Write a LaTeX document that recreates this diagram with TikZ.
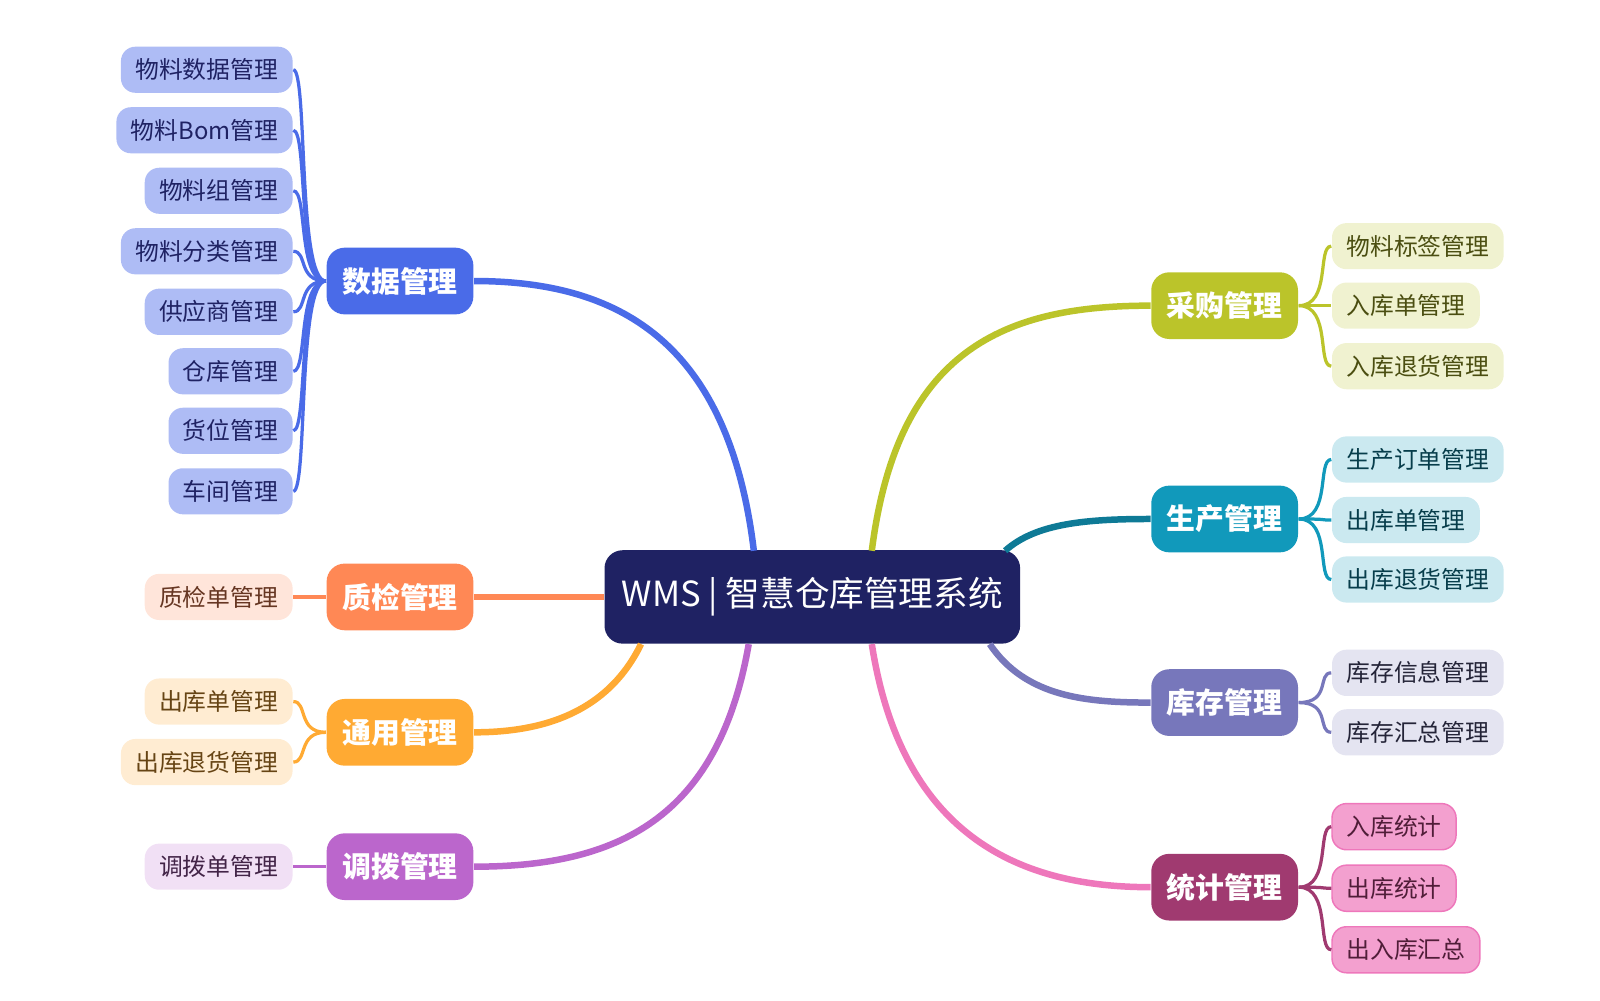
\documentclass[tikz,border=0pt]{standalone}
\usepackage{fontspec}
\setmainfont{Noto Sans CJK SC}
\usetikzlibrary{positioning}
\definecolor{rootc}{HTML}{1F2263}
\definecolor{datac}{HTML}{4A6BE8}
\definecolor{qcc}{HTML}{FF8855}
\definecolor{genc}{HTML}{FFAA33}
\definecolor{trc}{HTML}{BB66CC}
\definecolor{purc}{HTML}{BBC42A}
\definecolor{proc}{HTML}{1199BB}
\definecolor{stoc}{HTML}{7777BB}
\definecolor{stac}{HTML}{A03A70}
\definecolor{stalink}{HTML}{EE77BB}
\tikzset{
  mainbox/.style={fill=#1, rounded corners=5pt, text=white, font=\bfseries\fontsize{8}{10}\selectfont,
    minimum width=1.43cm, minimum height=0.65cm},
  leafbox/.style={fill=#1, rounded corners=4pt, font=\fontsize{6.6}{8}\selectfont,
    minimum height=0.42cm, inner xsep=4pt},
  link/.style={draw=#1, line width=1.8pt},
  twig/.style={draw=#1, line width=0.9pt}
}
\begin{document}
\begin{tikzpicture}[x=0.01cm,y=-0.01cm]
\useasboundingbox (0,0) rectangle (1560,975);
\node[fill=rootc, rounded corners=5pt, text=white, font=\fontsize{9.6}{11}\selectfont,
  minimum width=4.05cm, minimum height=0.91cm] (root) at (792,582) {WMS | 智慧仓库管理系统};
% main branches
\node[mainbox=datac] (data) at (390,274) {数据管理};
\node[mainbox=qcc] (qc) at (390,582) {质检管理};
\node[mainbox=genc] (gen) at (390,714) {通用管理};
\node[mainbox=trc] (tr) at (390,845) {调拨管理};
\node[mainbox=purc] (pur) at (1194,298) {采购管理};
\node[mainbox=proc] (pro) at (1194,506) {生产管理};
\node[mainbox=stoc] (sto) at (1194,685) {库存管理};
\node[mainbox=stac] (sta) at (1194,865) {统计管理};
\coordinate (rd) at (735,537);
\coordinate (rp) at (850,537);
\coordinate (rr) at (980,537);
\coordinate (rg) at (625,628);
\coordinate (rt) at (730,628);
\coordinate (rs) at (965,628);
\coordinate (ra) at (850,628);
\draw[link=datac] (rd) .. controls (710,330) and (600,274) .. (data.east);
\draw[link=qcc] (root.west) -- (qc.east);
\draw[link=genc] (rg) .. controls (590,700) and (520,714) .. (gen.east);
\draw[link=trc] (rt) .. controls (700,800) and (600,845) .. (tr.east);
\draw[link=purc] (rp) .. controls (875,340) and (980,298) .. (pur.west);
\draw[link=proc!80!black] (rr) .. controls (1010,510) and (1060,506) .. (pro.west);
\draw[link=stoc] (rs) .. controls (1000,680) and (1060,685) .. (sto.west);
\draw[link=stalink] (ra) .. controls (880,820) and (1000,865) .. (sta.west);
% leaves left
\foreach \name/\txt/\y in {d1/物料数据管理/68, d2/物料Bom管理/127, d3/物料组管理/186, d4/物料分类管理/245,
  d5/供应商管理/304, d6/仓库管理/362, d7/货位管理/420, d8/车间管理/479} {
  \node[leafbox={datac!45}, text=rootc, anchor=east] (\name) at (286,\y) {\txt};
  \draw[twig=datac] (data.west) .. controls (290,274) and (300,\y) .. (\name.east);
}
\node[leafbox={qcc!22}, text=qcc!40!black, anchor=east] (q1) at (286,582) {质检单管理};
\draw[twig=qcc] (qc.west) -- (q1.east);
\foreach \name/\txt/\y in {g1/出库单管理/684, g2/出库退货管理/743} {
  \node[leafbox={genc!22}, text=genc!40!black, anchor=east] (\name) at (286,\y) {\txt};
  \draw[twig=genc] (gen.west) .. controls (290,714) and (300,\y) .. (\name.east);
}
\node[leafbox={trc!20}, text=trc!35!black, anchor=east] (t1) at (286,845) {调拨单管理};
\draw[twig=trc] (tr.west) -- (t1.east);
% leaves right
\foreach \name/\txt/\y in {p1/物料标签管理/240, p2/入库单管理/298, p3/入库退货管理/357} {
  \node[leafbox={purc!22}, text=purc!40!black, anchor=west] (\name) at (1298,\y) {\txt};
  \draw[twig=purc] (pur.east) .. controls (1298,298) and (1284,\y) .. (\name.west);
}
\foreach \name/\txt/\y in {s1/生产订单管理/448, s2/出库单管理/507, s3/出库退货管理/565} {
  \node[leafbox={proc!22}, text=proc!40!black, anchor=west] (\name) at (1298,\y) {\txt};
  \draw[twig=proc] (pro.east) .. controls (1298,506) and (1284,\y) .. (\name.west);
}
\foreach \name/\txt/\y in {k1/库存信息管理/656, k2/库存汇总管理/714} {
  \node[leafbox={stoc!20}, text=stoc!30!black, anchor=west] (\name) at (1298,\y) {\txt};
  \draw[twig=stoc] (sto.east) .. controls (1298,685) and (1284,\y) .. (\name.west);
}
\foreach \name/\txt/\y in {a1/入库统计/806, a2/出库统计/866, a3/出入库汇总/926} {
  \node[leafbox={stalink!70}, draw=stalink, text=stac!50!black, anchor=west] (\name) at (1298,\y) {\txt};
  \draw[twig=stac] (sta.east) .. controls (1298,865) and (1284,\y) .. (\name.west);
}
\end{tikzpicture}
\end{document}
